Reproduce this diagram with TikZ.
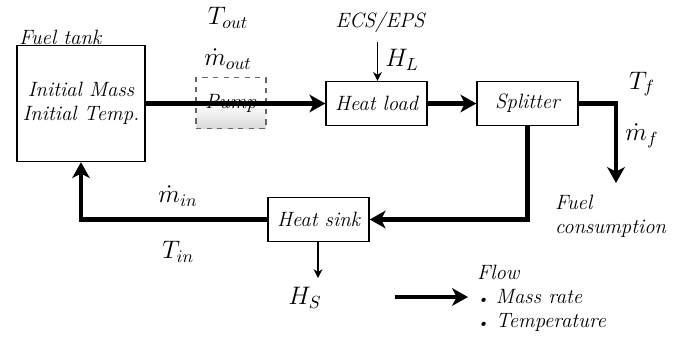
\documentclass[tikz,border=0pt]{standalone}
\usepackage{amsmath,amssymb}
\usepackage{tikz}
\usetikzlibrary{arrows.meta,calc,positioning}
\tikzset{
  blk/.style={draw,thick,minimum width=2.02cm,minimum height=0.88cm,inner sep=1pt},
  tankblk/.style={draw,thick,minimum width=2.56cm,minimum height=2.32cm,align=center},
  pumpblk/.style={draw=gray!80!black,dashed,thick,minimum width=1.4cm,minimum height=1.02cm,
    top color=white,bottom color=gray!30,middle color=white},
  flow/.style={-{Stealth[length=9pt,width=10pt,inset=2.5pt]},line width=2.3pt},
  heat/.style={-{Stealth[length=5pt,width=5pt]},line width=0.9pt},
  lbl/.style={inner sep=1pt},
  var/.style={inner sep=1pt,font=\fontsize{14}{16}\selectfont},
  every node/.style={font=\fontsize{11.8}{13.6}\selectfont\itshape}
}
\begin{document}
\begin{tikzpicture}
\useasboundingbox (0,0) rectangle (13.88,6.74);

% blocks
\node[tankblk] (tank) at (1.62,4.67) {Initial Mass\\Initial Temp.};
\node[pumpblk] (pump) at (4.62,4.68) {Pump};
\node[blk] (heatload) at (7.53,4.67) {Heat load};
\node[blk] (splitter) at (10.55,4.67) {Splitter};
\node[blk] (heatsink) at (6.37,2.35) {Heat sink};

\node[lbl,anchor=west] (tanklbl) at (0.34,6.0) {Fuel tank};

% loose ends
\coordinate (fuelend) at (12.32,3.08);
\coordinate (hlin) at (7.55,5.9);
\coordinate (hsout) at (6.36,1.18);

% fuel loop
\draw[flow] (tank.east) -- (heatload.west);
\draw[flow] (heatload.east) -- (splitter.west);
\draw[flow] (splitter.east) -| (fuelend);
\draw[flow] (splitter.south) |- (heatsink.east);
\draw[flow] (heatsink.west) -| (tank.south);

% heat in and out
\node[lbl] (ecs) at (7.6,6.3) {ECS/EPS};
\draw[heat] (hlin) -- (hlin |- heatload.north);
\draw[heat] (heatsink.south -| hsout) -- (hsout);
\node[var] (hl) at (8.04,5.54) {$H_L$};
\node[var] (hs) at (6.1,0.78) {$H_S$};

% state labels
\node[var] (tout) at (4.56,6.38) {$T_{out}$};
\node[var] (mout) at (4.56,5.56) {$\dot{m}_{out}$};
\node[var] (tf) at (12.84,5.06) {$T_f$};
\node[var] (mf) at (12.84,4.02) {$\dot{m}_f$};
\node[var] (min) at (3.56,2.82) {$\dot{m}_{in}$};
\node[var] (tin) at (3.56,1.7) {$T_{in}$};
\node[lbl,anchor=west,align=left] (fuelcons) at (11.06,2.42) {Fuel\\consumption};

% legend
\coordinate (legA) at (7.9,0.8);
\coordinate (legB) at (9.36,0.8);
\draw[flow] (legA) -- (legB);
\node[lbl,anchor=north west,align=left] (legend) at (9.5,1.48)
  {Flow\\{\footnotesize\textbullet}\ Mass rate\\{\footnotesize\textbullet}\ Temperature};
\end{tikzpicture}
\end{document}
